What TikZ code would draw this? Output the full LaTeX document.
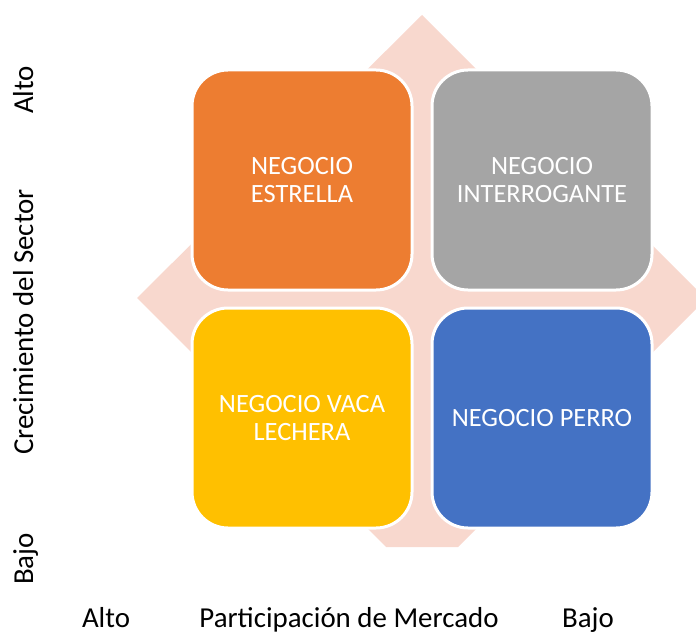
\documentclass[tikz,border=0pt]{standalone}
\usepackage{fontspec}
\setmainfont{Carlito}
\usepackage{tikz}

\definecolor{estrella}{RGB}{237,125,49}
\definecolor{interrogante}{RGB}{165,165,165}
\definecolor{vaca}{RGB}{255,192,0}
\definecolor{perro}{RGB}{68,114,196}
\definecolor{fondo}{RGB}{248,216,206}

\begin{document}
\begin{tikzpicture}[x=1bp, y=-1bp,
  cuadro/.style={rectangle, rounded corners=36bp, draw=white, line width=3bp,
    minimum width=220bp, minimum height=220bp, text=white, align=center,
    font=\fontsize{26.5}{28}\selectfont},
  eje/.style={anchor=base, text=black, font=\fontsize{29}{31}\selectfont},
  ejev/.style={eje, rotate=90}]
\useasboundingbox (0,0) rectangle (696,634);
% rombo de fondo
\fill[fondo] (422,15) -- (696,289) -- (696,309) -- (458,547) -- (386,547) -- (137,298) -- cycle;
% cuadrantes
\node[cuadro, fill=estrella] (estrella) at (302,180) {NEGOCIO\\ESTRELLA};
\node[cuadro, fill=interrogante] (interrogante) at (542,180) {NEGOCIO\\INTERROGANTE};
\node[cuadro, fill=vaca] (vaca) at (302,418) {NEGOCIO VACA\\LECHERA};
\node[cuadro, fill=perro] (perro) at (542,418) {NEGOCIO PERRO};
% ejes
\node[ejev] (altov) at (33,90) {Alto};
\node[ejev] (crecimiento) at (33,322) {Crecimiento del Sector};
\node[ejev] (bajov) at (33,559) {Bajo};
\node[eje] (altoh) at (106,627) {Alto};
\node[eje] (participacion) at (349,627) {Participación de Mercado};
\node[eje] (bajoh) at (588,627) {Bajo};
\end{tikzpicture}
\end{document}
